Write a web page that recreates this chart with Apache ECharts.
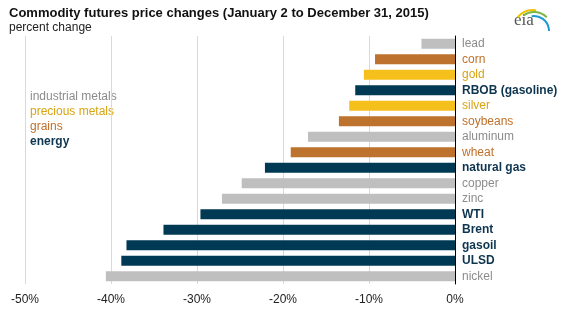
<!DOCTYPE html>
<html><head><meta charset="utf-8">
<script src="https://cdn.jsdelivr.net/npm/echarts@6/dist/echarts.min.js"></script>
<style>html,body{margin:0;padding:0;background:#fff}#c{width:575px;height:309px}</style>
</head><body><div id="c"></div>
<script>
const categories = ["lead","corn","gold","RBOB (gasoline)","silver","soybeans","aluminum","wheat","natural gas","copper","zinc","WTI","Brent","gasoil","ULSD","nickel"];
const values = [-3.9,-9.3,-10.6,-11.6,-12.3,-13.5,-17.1,-19.1,-22.1,-24.8,-27.1,-29.6,-33.9,-38.2,-38.8,-40.6];
const groups = ["ind","grain","prec","energy","prec","grain","ind","grain","energy","ind","ind","energy","energy","energy","energy","ind"];
const tickValues = [-50,-40,-30,-20,-10,0];
const legendItems = ["industrial metals","precious metals","grains","energy"];
const legendKeys = ["ind","prec","grain","energy"];

const barColor = {ind:"#bfbfbf", prec:"#f5bf1c", grain:"#bd732d", energy:"#003953"};
const textColor = {ind:"#8c8c8c", prec:"#d9a312", grain:"#c0702a", energy:"#0e3550"};
const font = "Arial, 'Liberation Sans', sans-serif";

const chart = echarts.init(document.getElementById('c'), null, {renderer:'canvas'});
const rich = {};
legendKeys.forEach(k => { rich[k] = {color:textColor[k], fontSize:12, fontFamily:font, fontWeight: k==='energy'?'bold':'normal'}; });

chart.setOption({
  animation:false,
  title:[
    {text:"Commodity futures price changes (January 2 to December 31, 2015)", left:4, top:2,
     textStyle:{fontSize:13, fontWeight:'bold', color:'#111', fontFamily:font}},
    {text:"percent change", left:4, top:17, textStyle:{fontSize:12, fontWeight:'normal', color:'#222', fontFamily:font}}
  ],
  grid:{left:25, right:120, top:36, bottom:25, containLabel:false},
  xAxis:{type:'value', min:tickValues[0], max:tickValues[tickValues.length-1], interval:10,
    axisLine:{show:false}, axisTick:{show:false},
    splitLine:{show:true, lineStyle:{color:'#d9d9d9', width:1}},
    axisLabel:{formatter:'{value}%', color:'#222', fontSize:12, fontFamily:font, margin:10}},
  yAxis:{type:'category', data:categories, inverse:true, position:'right',
    axisLine:{show:true, lineStyle:{color:'#000', width:1}}, axisTick:{show:false},
    axisLabel:{interval:0, margin:7, align:'left', fontSize:12, fontFamily:font,
      formatter:(v)=>'{'+groups[categories.indexOf(v)]+'|'+v+'}', rich:rich}},
  series:[{type:'bar', barWidth:'64%',
    data:values.map((v,i)=>({value:v, itemStyle:{color:barColor[groups[i]]}}))}],
  graphic:[
    ...legendItems.map((t,i)=>({type:'text', left:30, top:91+i*15,
      style:{text:t, fill:textColor[legendKeys[i]], fontSize:12, fontFamily:font, fontWeight:legendKeys[i]==='energy'?'bold':'normal'}})),
    {type:'text', left:514, top:12, style:{text:'eia', fill:'#555', fontSize:17, fontFamily:"'Liberation Serif', serif"}},
    {type:'arc', shape:{cx:533, cy:30, r:20, startAngle:Math.PI*1.22, endAngle:Math.PI*1.55}, style:{stroke:'#f2c200', lineWidth:2, fill:null}},
    {type:'arc', shape:{cx:534, cy:30, r:18, startAngle:Math.PI*1.3, endAngle:Math.PI*1.75}, style:{stroke:'#7ab648', lineWidth:2, fill:null}},
    {type:'arc', shape:{cx:534, cy:31, r:15, startAngle:Math.PI*1.45, endAngle:Math.PI*2.0}, style:{stroke:'#1d9ad6', lineWidth:2, fill:null}}
  ]
});
</script></body></html>
